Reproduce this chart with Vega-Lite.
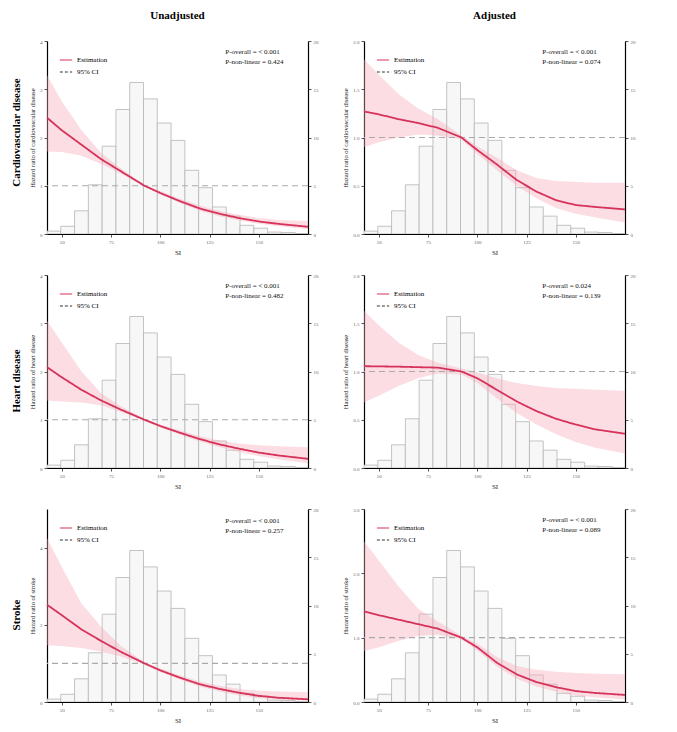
{
"$schema":"https://vega.github.io/schema/vega-lite/v6.json",
"background":"white",
"padding":{"left":10,"top":10,"right":10,"bottom":6},
"datasets":{
"one":[{}],
"hist":[{"start":42.5,"end":49.5,"pct":0.3},{"start":49.5,"end":56.5,"pct":0.8},{"start":56.5,"end":63.5,"pct":2.4},{"start":63.5,"end":70.5,"pct":5.1},{"start":70.5,"end":77.5,"pct":9.1},{"start":77.5,"end":84.5,"pct":12.9},{"start":84.5,"end":91.5,"pct":15.7},{"start":91.5,"end":98.5,"pct":14.0},{"start":98.5,"end":105.5,"pct":11.5},{"start":105.5,"end":112.5,"pct":9.7},{"start":112.5,"end":119.5,"pct":6.6},{"start":119.5,"end":126.5,"pct":4.8},{"start":126.5,"end":133.5,"pct":2.8},{"start":133.5,"end":140.5,"pct":1.85},{"start":140.5,"end":147.5,"pct":0.9},{"start":147.5,"end":154.5,"pct":0.6},{"start":154.5,"end":161.5,"pct":0.2},{"start":161.5,"end":168.5,"pct":0.15},{"start":168.5,"end":175,"pct":0.05}],
"cvd_u":[{"x":42.5,"hr":2.41,"lo":1.71,"hi":3.29},{"x":50,"hr":2.15,"lo":1.70,"hi":2.75},{"x":60,"hr":1.85,"lo":1.62,"hi":2.15},{"x":70,"hr":1.55,"lo":1.45,"hi":1.68},{"x":80,"hr":1.3,"lo":1.25,"hi":1.36},{"x":92,"hr":1.0,"lo":0.98,"hi":1.02},{"x":100,"hr":0.85,"lo":0.82,"hi":0.89},{"x":110,"hr":0.68,"lo":0.64,"hi":0.73},{"x":120,"hr":0.53,"lo":0.48,"hi":0.59},{"x":130,"hr":0.42,"lo":0.37,"hi":0.48},{"x":140,"hr":0.33,"lo":0.28,"hi":0.40},{"x":150,"hr":0.26,"lo":0.21,"hi":0.33},{"x":160,"hr":0.21,"lo":0.16,"hi":0.29},{"x":175,"hr":0.15,"lo":0.10,"hi":0.27}],
"cvd_a":[{"x":42.5,"hr":1.27,"lo":0.90,"hi":1.81},{"x":50,"hr":1.24,"lo":0.95,"hi":1.65},{"x":60,"hr":1.19,"lo":1.0,"hi":1.45},{"x":70,"hr":1.15,"lo":1.03,"hi":1.30},{"x":80,"hr":1.10,"lo":1.02,"hi":1.19},{"x":92,"hr":1.0,"lo":0.98,"hi":1.02},{"x":100,"hr":0.87,"lo":0.83,"hi":0.91},{"x":110,"hr":0.72,"lo":0.66,"hi":0.79},{"x":120,"hr":0.56,"lo":0.50,"hi":0.66},{"x":130,"hr":0.44,"lo":0.37,"hi":0.58},{"x":140,"hr":0.35,"lo":0.27,"hi":0.55},{"x":150,"hr":0.30,"lo":0.21,"hi":0.54},{"x":160,"hr":0.28,"lo":0.17,"hi":0.53},{"x":175,"hr":0.255,"lo":0.12,"hi":0.53}],
"hd_u":[{"x":42.5,"hr":2.09,"lo":1.40,"hi":3.05},{"x":50,"hr":1.88,"lo":1.38,"hi":2.60},{"x":60,"hr":1.62,"lo":1.36,"hi":2.0},{"x":70,"hr":1.40,"lo":1.30,"hi":1.55},{"x":80,"hr":1.21,"lo":1.16,"hi":1.28},{"x":92,"hr":1.0,"lo":0.98,"hi":1.02},{"x":100,"hr":0.87,"lo":0.84,"hi":0.90},{"x":110,"hr":0.73,"lo":0.69,"hi":0.78},{"x":120,"hr":0.60,"lo":0.55,"hi":0.66},{"x":130,"hr":0.49,"lo":0.43,"hi":0.57},{"x":140,"hr":0.40,"lo":0.33,"hi":0.51},{"x":150,"hr":0.32,"lo":0.25,"hi":0.47},{"x":160,"hr":0.26,"lo":0.18,"hi":0.45},{"x":175,"hr":0.19,"lo":0.10,"hi":0.43}],
"hd_a":[{"x":42.5,"hr":1.055,"lo":0.68,"hi":1.63},{"x":50,"hr":1.053,"lo":0.75,"hi":1.48},{"x":60,"hr":1.05,"lo":0.85,"hi":1.30},{"x":70,"hr":1.045,"lo":0.93,"hi":1.17},{"x":80,"hr":1.04,"lo":0.98,"hi":1.09},{"x":92,"hr":1.0,"lo":0.97,"hi":1.03},{"x":100,"hr":0.93,"lo":0.88,"hi":0.99},{"x":110,"hr":0.81,"lo":0.72,"hi":0.93},{"x":120,"hr":0.69,"lo":0.57,"hi":0.88},{"x":130,"hr":0.59,"lo":0.45,"hi":0.85},{"x":140,"hr":0.51,"lo":0.35,"hi":0.83},{"x":150,"hr":0.45,"lo":0.27,"hi":0.82},{"x":160,"hr":0.40,"lo":0.21,"hi":0.81},{"x":175,"hr":0.355,"lo":0.15,"hi":0.80}],
"st_u":[{"x":42.5,"hr":2.52,"lo":1.47,"hi":4.25},{"x":50,"hr":2.25,"lo":1.45,"hi":3.50},{"x":60,"hr":1.88,"lo":1.40,"hi":2.55},{"x":70,"hr":1.58,"lo":1.30,"hi":1.95},{"x":80,"hr":1.30,"lo":1.18,"hi":1.45},{"x":92,"hr":1.0,"lo":0.97,"hi":1.03},{"x":100,"hr":0.82,"lo":0.78,"hi":0.87},{"x":110,"hr":0.63,"lo":0.58,"hi":0.69},{"x":120,"hr":0.46,"lo":0.40,"hi":0.53},{"x":130,"hr":0.34,"lo":0.27,"hi":0.42},{"x":140,"hr":0.24,"lo":0.17,"hi":0.34},{"x":150,"hr":0.16,"lo":0.10,"hi":0.29},{"x":160,"hr":0.11,"lo":0.06,"hi":0.27},{"x":175,"hr":0.07,"lo":0.03,"hi":0.25}],
"st_a":[{"x":42.5,"hr":1.41,"lo":0.79,"hi":2.5},{"x":50,"hr":1.35,"lo":0.85,"hi":2.2},{"x":60,"hr":1.28,"lo":0.95,"hi":1.80},{"x":70,"hr":1.21,"lo":1.03,"hi":1.45},{"x":80,"hr":1.14,"lo":1.05,"hi":1.25},{"x":92,"hr":1.0,"lo":0.97,"hi":1.03},{"x":100,"hr":0.85,"lo":0.80,"hi":0.91},{"x":110,"hr":0.61,"lo":0.55,"hi":0.70},{"x":120,"hr":0.43,"lo":0.36,"hi":0.56},{"x":130,"hr":0.31,"lo":0.24,"hi":0.50},{"x":140,"hr":0.23,"lo":0.16,"hi":0.47},{"x":150,"hr":0.17,"lo":0.10,"hi":0.45},{"x":160,"hr":0.14,"lo":0.07,"hi":0.44},{"x":175,"hr":0.11,"lo":0.04,"hi":0.43}]
},
"vconcat":[
{"title":{"text":"Cardiovascular disease","orient":"left","anchor":"middle","fontSize":11,"fontWeight":"bold","font":"Liberation Serif","offset":8},
"hconcat":[
{"width":261,"height":193,"title":{"text":"Unadjusted","fontSize":11,"fontWeight":"bold","font":"Liberation Serif","offset":18},
"layer":[
{"data":{"name":"hist"},"mark":{"type":"bar","fill":"#f7f7f7","stroke":"#b5b5b5","strokeWidth":0.8,"clip":true},"encoding":{"x":{"field":"start","type":"quantitative","scale":{"domain":[42.5,175],"nice":false},"axis":{"values":[50,75,100,125,150],"title":"SI"}},"x2":{"field":"end"},"y":{"field":"pct","type":"quantitative","scale":{"domain":[0,20]},"axis":{"orient":"right","values":[0,5,10,15,20],"title":null}},"y2":{"datum":0}}},
{"layer":[
{"data":{"name":"cvd_u"},"mark":{"type":"area","color":"#f4a9b8","opacity":0.4},"encoding":{"x":{"field":"x","type":"quantitative"},"y":{"field":"lo","type":"quantitative","scale":{"domain":[0,4]},"axis":{"values":[0,1,2,3,4],"title":"Hazard ratio of cardiovascular disease"}},"y2":{"field":"hi"}}},
{"data":{"name":"one"},"mark":{"type":"rule","color":"#aaaaaa","strokeDash":[6,4],"strokeWidth":1.2},"encoding":{"y":{"datum":1}}},
{"data":{"name":"cvd_u"},"mark":{"type":"line","strokeWidth":1.8},"encoding":{"x":{"field":"x","type":"quantitative"},"y":{"field":"hr","type":"quantitative"},"color":{"datum":"Estimation","scale":{"domain":["Estimation","95% CI"],"range":["#d6325a","#333333"]},"legend":{"orient":"top-left","title":null,"symbolType":"stroke","symbolStrokeWidth":1.2,"labelFontSize":7,"labelFont":"Liberation Serif","offset":12,"symbolSize":150,"rowPadding":2}},"strokeDash":{"datum":"Estimation","scale":{"domain":["Estimation","95% CI"],"range":[[1,0],[3,2]]}}}},
{"data":{"name":"one"},"mark":{"type":"text","align":"left","baseline":"top","fontSize":7,"font":"Liberation Serif","lineHeight":10,"color":"#111111"},"encoding":{"x":{"datum":133},"y":{"datum":3.85},"text":{"value":["P-overall = < 0.001","P-non-linear = 0.424"]}}}
]}],
"resolve":{"scale":{"y":"independent"}}},
{"width":261,"height":193,"title":{"text":"Adjusted","fontSize":11,"fontWeight":"bold","font":"Liberation Serif","offset":18},
"layer":[
{"data":{"name":"hist"},"mark":{"type":"bar","fill":"#f7f7f7","stroke":"#b5b5b5","strokeWidth":0.8,"clip":true},"encoding":{"x":{"field":"start","type":"quantitative","scale":{"domain":[42.5,175],"nice":false},"axis":{"values":[50,75,100,125,150],"title":"SI"}},"x2":{"field":"end"},"y":{"field":"pct","type":"quantitative","scale":{"domain":[0,20]},"axis":{"orient":"right","values":[0,5,10,15,20],"title":null}},"y2":{"datum":0}}},
{"layer":[
{"data":{"name":"cvd_a"},"mark":{"type":"area","color":"#f4a9b8","opacity":0.4},"encoding":{"x":{"field":"x","type":"quantitative"},"y":{"field":"lo","type":"quantitative","scale":{"domain":[0,2]},"axis":{"values":[0,0.5,1,1.5,2],"format":".1f","title":"Hazard ratio of cardiovascular disease"}},"y2":{"field":"hi"}}},
{"data":{"name":"one"},"mark":{"type":"rule","color":"#aaaaaa","strokeDash":[6,4],"strokeWidth":1.2},"encoding":{"y":{"datum":1}}},
{"data":{"name":"cvd_a"},"mark":{"type":"line","strokeWidth":1.8},"encoding":{"x":{"field":"x","type":"quantitative"},"y":{"field":"hr","type":"quantitative"},"color":{"datum":"Estimation","scale":{"domain":["Estimation","95% CI"],"range":["#d6325a","#333333"]},"legend":{"orient":"top-left","title":null,"symbolType":"stroke","symbolStrokeWidth":1.2,"labelFontSize":7,"labelFont":"Liberation Serif","offset":12,"symbolSize":150,"rowPadding":2}},"strokeDash":{"datum":"Estimation","scale":{"domain":["Estimation","95% CI"],"range":[[1,0],[3,2]]}}}},
{"data":{"name":"one"},"mark":{"type":"text","align":"left","baseline":"top","fontSize":7,"font":"Liberation Serif","lineHeight":10,"color":"#111111"},"encoding":{"x":{"datum":133},"y":{"datum":1.925},"text":{"value":["P-overall = < 0.001","P-non-linear = 0.074"]}}}
]}],
"resolve":{"scale":{"y":"independent"}}}
],"resolve":{"scale":{"color":"independent","strokeDash":"independent"},"legend":{"color":"independent","strokeDash":"independent"}}},
{"title":{"text":"Heart disease","orient":"left","anchor":"middle","fontSize":11,"fontWeight":"bold","font":"Liberation Serif","offset":8},
"hconcat":[
{"width":261,"height":193,
"layer":[
{"data":{"name":"hist"},"mark":{"type":"bar","fill":"#f7f7f7","stroke":"#b5b5b5","strokeWidth":0.8,"clip":true},"encoding":{"x":{"field":"start","type":"quantitative","scale":{"domain":[42.5,175],"nice":false},"axis":{"values":[50,75,100,125,150],"title":"SI"}},"x2":{"field":"end"},"y":{"field":"pct","type":"quantitative","scale":{"domain":[0,20]},"axis":{"orient":"right","values":[0,5,10,15,20],"title":null}},"y2":{"datum":0}}},
{"layer":[
{"data":{"name":"hd_u"},"mark":{"type":"area","color":"#f4a9b8","opacity":0.4},"encoding":{"x":{"field":"x","type":"quantitative"},"y":{"field":"lo","type":"quantitative","scale":{"domain":[0,4]},"axis":{"values":[0,1,2,3,4],"title":"Hazard ratio of heart disease"}},"y2":{"field":"hi"}}},
{"data":{"name":"one"},"mark":{"type":"rule","color":"#aaaaaa","strokeDash":[6,4],"strokeWidth":1.2},"encoding":{"y":{"datum":1}}},
{"data":{"name":"hd_u"},"mark":{"type":"line","strokeWidth":1.8},"encoding":{"x":{"field":"x","type":"quantitative"},"y":{"field":"hr","type":"quantitative"},"color":{"datum":"Estimation","scale":{"domain":["Estimation","95% CI"],"range":["#d6325a","#333333"]},"legend":{"orient":"top-left","title":null,"symbolType":"stroke","symbolStrokeWidth":1.2,"labelFontSize":7,"labelFont":"Liberation Serif","offset":12,"symbolSize":150,"rowPadding":2}},"strokeDash":{"datum":"Estimation","scale":{"domain":["Estimation","95% CI"],"range":[[1,0],[3,2]]}}}},
{"data":{"name":"one"},"mark":{"type":"text","align":"left","baseline":"top","fontSize":7,"font":"Liberation Serif","lineHeight":10,"color":"#111111"},"encoding":{"x":{"datum":133},"y":{"datum":3.85},"text":{"value":["P-overall = < 0.001","P-non-linear = 0.482"]}}}
]}],
"resolve":{"scale":{"y":"independent"}}},
{"width":261,"height":193,
"layer":[
{"data":{"name":"hist"},"mark":{"type":"bar","fill":"#f7f7f7","stroke":"#b5b5b5","strokeWidth":0.8,"clip":true},"encoding":{"x":{"field":"start","type":"quantitative","scale":{"domain":[42.5,175],"nice":false},"axis":{"values":[50,75,100,125,150],"title":"SI"}},"x2":{"field":"end"},"y":{"field":"pct","type":"quantitative","scale":{"domain":[0,20]},"axis":{"orient":"right","values":[0,5,10,15,20],"title":null}},"y2":{"datum":0}}},
{"layer":[
{"data":{"name":"hd_a"},"mark":{"type":"area","color":"#f4a9b8","opacity":0.4},"encoding":{"x":{"field":"x","type":"quantitative"},"y":{"field":"lo","type":"quantitative","scale":{"domain":[0,2]},"axis":{"values":[0,0.5,1,1.5,2],"format":".1f","title":"Hazard ratio of heart disease"}},"y2":{"field":"hi"}}},
{"data":{"name":"one"},"mark":{"type":"rule","color":"#aaaaaa","strokeDash":[6,4],"strokeWidth":1.2},"encoding":{"y":{"datum":1}}},
{"data":{"name":"hd_a"},"mark":{"type":"line","strokeWidth":1.8},"encoding":{"x":{"field":"x","type":"quantitative"},"y":{"field":"hr","type":"quantitative"},"color":{"datum":"Estimation","scale":{"domain":["Estimation","95% CI"],"range":["#d6325a","#333333"]},"legend":{"orient":"top-left","title":null,"symbolType":"stroke","symbolStrokeWidth":1.2,"labelFontSize":7,"labelFont":"Liberation Serif","offset":12,"symbolSize":150,"rowPadding":2}},"strokeDash":{"datum":"Estimation","scale":{"domain":["Estimation","95% CI"],"range":[[1,0],[3,2]]}}}},
{"data":{"name":"one"},"mark":{"type":"text","align":"left","baseline":"top","fontSize":7,"font":"Liberation Serif","lineHeight":10,"color":"#111111"},"encoding":{"x":{"datum":133},"y":{"datum":1.925},"text":{"value":["P-overall = 0.024","P-non-linear = 0.139"]}}}
]}],
"resolve":{"scale":{"y":"independent"}}}
],"resolve":{"scale":{"color":"independent","strokeDash":"independent"},"legend":{"color":"independent","strokeDash":"independent"}}},
{"title":{"text":"Stroke","orient":"left","anchor":"middle","fontSize":11,"fontWeight":"bold","font":"Liberation Serif","offset":8},
"hconcat":[
{"width":261,"height":193,
"layer":[
{"data":{"name":"hist"},"mark":{"type":"bar","fill":"#f7f7f7","stroke":"#b5b5b5","strokeWidth":0.8,"clip":true},"encoding":{"x":{"field":"start","type":"quantitative","scale":{"domain":[42.5,175],"nice":false},"axis":{"values":[50,75,100,125,150],"title":"SI"}},"x2":{"field":"end"},"y":{"field":"pct","type":"quantitative","scale":{"domain":[0,20]},"axis":{"orient":"right","values":[0,5,10,15,20],"title":null}},"y2":{"datum":0}}},
{"layer":[
{"data":{"name":"st_u"},"mark":{"type":"area","color":"#f4a9b8","opacity":0.4},"encoding":{"x":{"field":"x","type":"quantitative"},"y":{"field":"lo","type":"quantitative","scale":{"domain":[0,5]},"axis":{"values":[0,1,2,3,4,5],"title":"Hazard ratio of stroke"}},"y2":{"field":"hi"}}},
{"data":{"name":"one"},"mark":{"type":"rule","color":"#aaaaaa","strokeDash":[6,4],"strokeWidth":1.2},"encoding":{"y":{"datum":1}}},
{"data":{"name":"st_u"},"mark":{"type":"line","strokeWidth":1.8},"encoding":{"x":{"field":"x","type":"quantitative"},"y":{"field":"hr","type":"quantitative"},"color":{"datum":"Estimation","scale":{"domain":["Estimation","95% CI"],"range":["#d6325a","#333333"]},"legend":{"orient":"top-left","title":null,"symbolType":"stroke","symbolStrokeWidth":1.2,"labelFontSize":7,"labelFont":"Liberation Serif","offset":12,"symbolSize":150,"rowPadding":2}},"strokeDash":{"datum":"Estimation","scale":{"domain":["Estimation","95% CI"],"range":[[1,0],[3,2]]}}}},
{"data":{"name":"one"},"mark":{"type":"text","align":"left","baseline":"top","fontSize":7,"font":"Liberation Serif","lineHeight":10,"color":"#111111"},"encoding":{"x":{"datum":133},"y":{"datum":4.8},"text":{"value":["P-overall = < 0.001","P-non-linear = 0.257"]}}}
]}],
"resolve":{"scale":{"y":"independent"}}},
{"width":261,"height":193,
"layer":[
{"data":{"name":"hist"},"mark":{"type":"bar","fill":"#f7f7f7","stroke":"#b5b5b5","strokeWidth":0.8,"clip":true},"encoding":{"x":{"field":"start","type":"quantitative","scale":{"domain":[42.5,175],"nice":false},"axis":{"values":[50,75,100,125,150],"title":"SI"}},"x2":{"field":"end"},"y":{"field":"pct","type":"quantitative","scale":{"domain":[0,20]},"axis":{"orient":"right","values":[0,5,10,15,20],"title":null}},"y2":{"datum":0}}},
{"layer":[
{"data":{"name":"st_a"},"mark":{"type":"area","color":"#f4a9b8","opacity":0.4},"encoding":{"x":{"field":"x","type":"quantitative"},"y":{"field":"lo","type":"quantitative","scale":{"domain":[0,3]},"axis":{"values":[0,1,2,3],"title":"Hazard ratio of stroke"}},"y2":{"field":"hi"}}},
{"data":{"name":"one"},"mark":{"type":"rule","color":"#aaaaaa","strokeDash":[6,4],"strokeWidth":1.2},"encoding":{"y":{"datum":1}}},
{"data":{"name":"st_a"},"mark":{"type":"line","strokeWidth":1.8},"encoding":{"x":{"field":"x","type":"quantitative"},"y":{"field":"hr","type":"quantitative"},"color":{"datum":"Estimation","scale":{"domain":["Estimation","95% CI"],"range":["#d6325a","#333333"]},"legend":{"orient":"top-left","title":null,"symbolType":"stroke","symbolStrokeWidth":1.2,"labelFontSize":7,"labelFont":"Liberation Serif","offset":12,"symbolSize":150,"rowPadding":2}},"strokeDash":{"datum":"Estimation","scale":{"domain":["Estimation","95% CI"],"range":[[1,0],[3,2]]}}}},
{"data":{"name":"one"},"mark":{"type":"text","align":"left","baseline":"top","fontSize":7,"font":"Liberation Serif","lineHeight":10,"color":"#111111"},"encoding":{"x":{"datum":133},"y":{"datum":2.89},"text":{"value":["P-overall = < 0.001","P-non-linear = 0.089"]}}}
]}],
"resolve":{"scale":{"y":"independent"}}}
],"resolve":{"scale":{"color":"independent","strokeDash":"independent"},"legend":{"color":"independent","strokeDash":"independent"}}}
],
"spacing":18,
"config":{
"font":"Liberation Serif",
"view":{"stroke":null},
"concat":{"spacing":24},
"axis":{"grid":false,"domainColor":"#000000","domainWidth":1.2,"tickColor":"#555555","tickSize":3,"labelFontSize":5,"labelColor":"#666666","labelFont":"Liberation Serif","titleFont":"Liberation Serif","titleFontSize":6.5,"titleFontWeight":"normal","titleColor":"#222222","titlePadding":4},
"axisX":{"titleColor":"#222222","titleFontSize":7}
}
}
